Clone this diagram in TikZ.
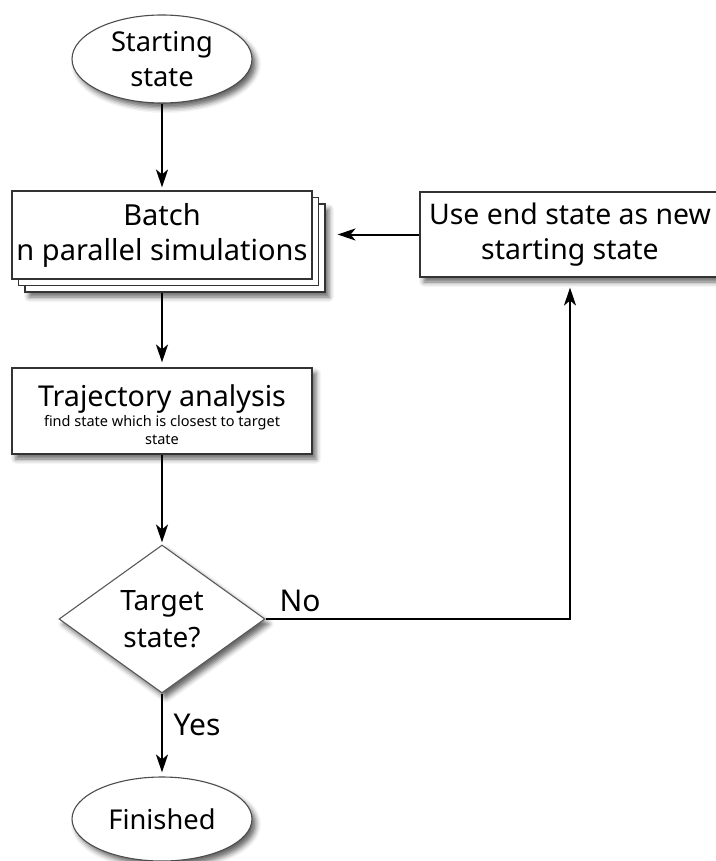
\documentclass[tikz,border=0pt]{standalone}
\usepackage{fontspec}
\setmainfont{Noto Sans}
\usetikzlibrary{shapes.geometric,arrows.meta,shadows.blur,calc}
\pgfdeclarelayer{bg}
\pgfsetlayers{bg,main}
\newcommand{\fsz}[1]{\fontsize{#1}{35}\selectfont}
\begin{document}
\begin{tikzpicture}[x=1pt,y=-1pt,
  base/.style={fill=white, draw=black!80, line width=1.1pt, inner sep=0pt,
    align=center, font=\fsz{27.3}},
  dropshadow/.style={blur shadow={shadow xshift=4pt, shadow yshift=-5pt,
    shadow blur radius=5pt, shadow opacity=60}},
  terminal/.style={base, dropshadow, ellipse, minimum width=180pt,
    minimum height=88pt, draw=black!70},
  procbox/.style={base, rectangle, minimum width=300pt, minimum height=86pt},
  decision/.style={base, dropshadow, diamond, aspect=1.4, minimum width=206pt,
    minimum height=148pt, draw=black!65, font=\fontsize{28}{37}\selectfont},
  flow/.style={line width=2pt, -{Stealth[length=18pt,width=12pt,inset=5pt]}},
  lbl/.style={font=\fsz{30}, inner sep=0pt}
]
\useasboundingbox (0,0) rectangle (715,861);

% start / end terminals
\node[terminal] (start) at (162,59) {Starting\\state};
\node[terminal, minimum height=84pt] (finish) at (162,819) {Finished};

% stacked batch boxes (back to front)
\node[procbox, dropshadow, minimum height=88pt] (stackB) at (175,248) {};
\node[procbox, minimum height=88pt] (stackA) at (168.5,241.5) {};
\node[procbox, minimum height=88pt, font=\fsz{29}] (batch) at (162,235)
  {Batch\\n parallel simulations};

% feedback box
\node[procbox, dropshadow, minimum height=85pt, font=\fsz{28.4}] (reuse) at (570,234.5)
  {Use end state as new\\starting state};

% analysis box
\node[procbox, dropshadow] (traj) at (162,411) {};
\node[inner sep=0pt, align=center, font=\fontsize{14.5}{18}\selectfont] (trajtext) at (162,415)
  {{\fontsize{28.7}{30}\selectfont Trajectory analysis}\\[2pt]
   find state which is closest to target\\state};

% decision
\node[decision] (test) at (162,619) {Target\\state?};

% labels
\node[lbl] (nolbl) at (300,601) {No};
\node[lbl] (yeslbl) at (197,725) {Yes};

% connectors
\draw[flow, shorten >=3pt] (start) -- (batch);
\begin{pgfonlayer}{bg}
  \draw[flow, shorten >=5pt] (batch) -- (traj);
\end{pgfonlayer}
\draw[flow, shorten >=2pt] (traj) -- (test);
\draw[flow, shorten >=4pt] (test) -- (finish);
\draw[flow, shorten >=10pt] (test.east) -| (reuse.south);
\draw[flow, shorten >=12pt] (reuse.west) -- (reuse.west -| stackB.east);
\end{tikzpicture}
\end{document}
